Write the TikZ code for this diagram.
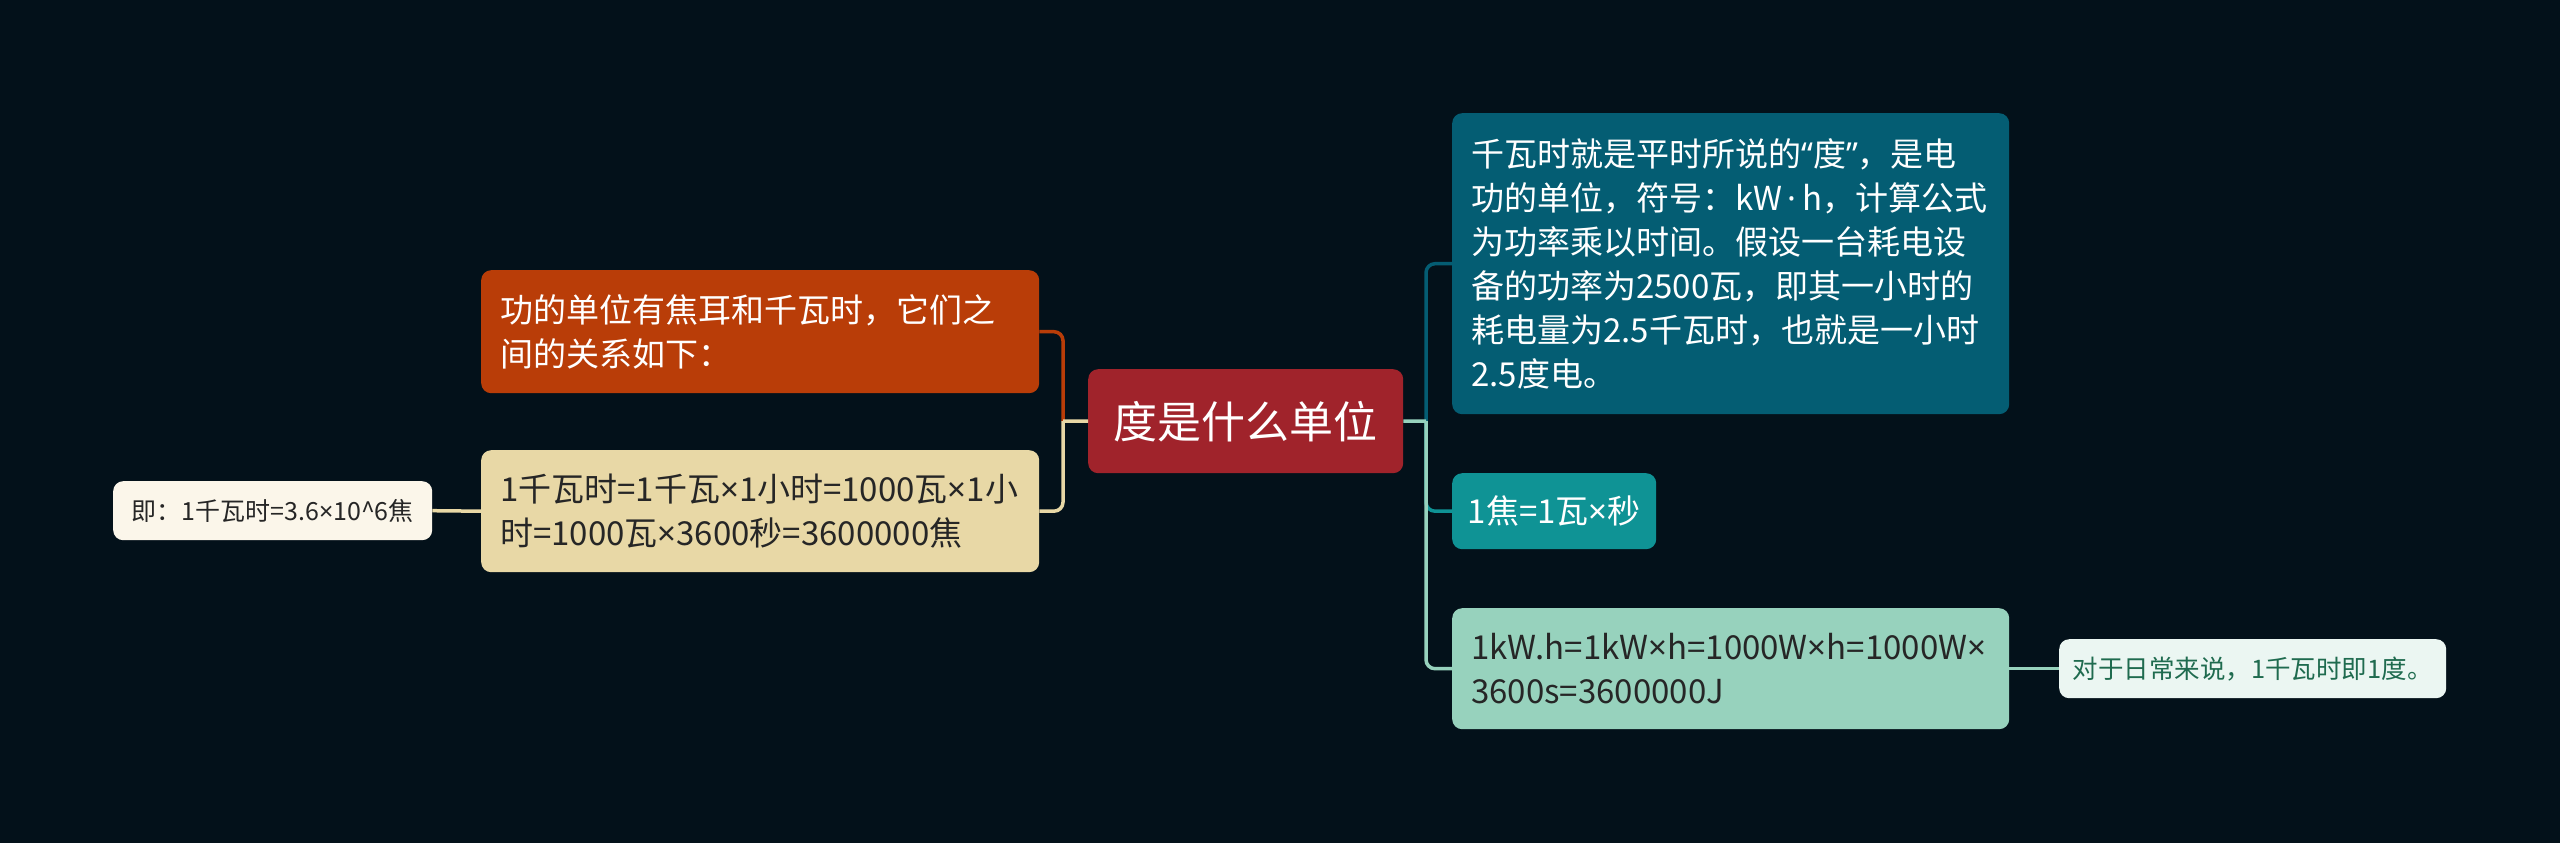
\documentclass[tikz,border=0pt]{standalone}
\usepackage{fontspec}
\newfontfamily\cjk{Noto Sans CJK SC}
\newfontfamily\latn{Noto Sans}
\newcommand{\tms}{{\latn ×}}
\newcommand{\mdot}{{\latn\,·\,}}
\newcommand{\myLQ}{{\latn “}}
\newcommand{\myRQ}{{\latn ”}}
\definecolor{bgc}{HTML}{03111A}
\definecolor{centralc}{HTML}{A0232B}
\definecolor{orangec}{HTML}{B93D08}
\definecolor{beigec}{HTML}{E8D8A6}
\definecolor{darktealc}{HTML}{045D73}
\definecolor{midtealc}{HTML}{0F9395}
\definecolor{lgreenc}{HTML}{97D2BD}
\definecolor{lsmallc}{HTML}{FBF6EA}
\definecolor{rsmallc}{HTML}{EBF6F2}
\definecolor{rsmalltext}{HTML}{1F6B4F}
\definecolor{darktext}{HTML}{262626}
\tikzset{
  box/.style={rectangle, rounded corners=10pt, anchor=north west, inner xsep=19pt, inner ysep=0pt, align=left},
  bigtext/.style={font=\cjk\fontsize{33}{44}\selectfont},
  smalltext/.style={font=\cjk\fontsize{25}{32}\selectfont},
  conn/.style={line width=3.5pt},
  branchline/.style={line width=3.5pt, rounded corners=9pt}
}
\begin{document}
\begin{tikzpicture}[x=1pt,y=-1pt]
\fill[bgc] (0,0) rectangle (2560,843);
\useasboundingbox (0,0) rectangle (2560,843);

% central
\node[box, fill=centralc, text=white, align=center, inner xsep=0pt, minimum width=315pt, minimum height=104pt, font=\cjk\fontsize{44}{52}\selectfont] (c) at (1088,369) {度是什么单位};

% left side
\node[box, bigtext, fill=orangec, text=white, text width=520pt, minimum height=123pt] (o) at (481,270)
  {功的单位有焦耳和千瓦时，它们之\\间的关系如下：};
\node[box, bigtext, fill=beigec, text=darktext, text width=520pt, minimum height=122pt] (b) at (481,450)
  {1千瓦时=1千瓦\tms1小时=1000瓦\tms1小\\时=1000瓦\tms3600秒=3600000焦};
\node[box, smalltext, fill=lsmallc, text=darktext, inner xsep=0pt, align=center, minimum width=319pt, minimum height=59pt] (ls) at (113,481)
  {即：1千瓦时=3.6\tms10\^{}6焦};

% right side
\node[box, bigtext, fill=darktealc, text=white, text width=519pt, minimum height=301pt] (dt) at (1452,113)
  {千瓦时就是平时所说的\myLQ 度\myRQ ，是电\\功的单位，符号：kW\mdot h，计算公式\\为功率乘以时间。假设一台耗电设\\备的功率为2500瓦，即其一小时的\\耗电量为2.5千瓦时，也就是一小时\\2.5度电。};
\node[box, bigtext, fill=midtealc, text=white, inner xsep=0pt, text width=204pt, align=center, minimum height=76pt] (mt) at (1452,473)
  {1焦=1瓦\tms 秒};
\node[box, bigtext, fill=lgreenc, text=darktext, text width=519pt, minimum height=121pt] (lg) at (1452,608)
  {1kW.h=1kW\tms h=1000W\tms h=1000W\tms\\3600s=3600000J};
\node[box, font=\cjk\fontsize{25.5}{32}\selectfont, fill=rsmallc, text=rsmalltext, inner xsep=0pt, align=center, minimum width=387pt, minimum height=59pt] (rs) at (2059,639)
  {对于日常来说，1千瓦时即1度。};

% junctions
\coordinate (jl) at (1063,421);
\coordinate (jr) at (1426,421);

% left connectors
\draw[branchline, orangec] (jl) |- (o.east);
\draw[branchline, beigec] (jl) |- (b.east);
\draw[conn, beigec] (c.west) -- (jl);
\draw[conn, beigec] (ls.east) -- (b.west);

% right connectors
\draw[branchline, darktealc] (jr) |- (dt.west);
\draw[branchline, midtealc] (jr) |- (mt.west);
\draw[branchline, lgreenc] (jr) |- (lg.west);
\draw[conn, lgreenc] (c.east) -- (jr);
\draw[conn, lgreenc] (lg.east) -- (rs.west);
\end{tikzpicture}
\end{document}
